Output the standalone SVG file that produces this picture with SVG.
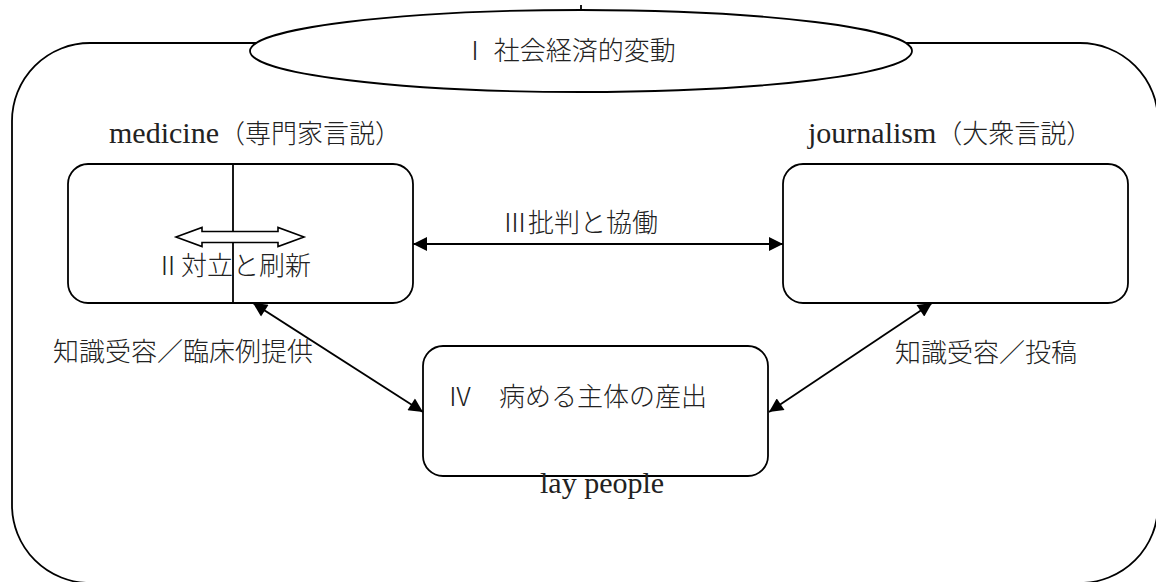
<svg xmlns="http://www.w3.org/2000/svg" width="1156" height="582" viewBox="0 0 1156 582">
<style>
.box{fill:#fff;stroke:#000;stroke-width:1.8}
.ln{fill:none;stroke:#000;stroke-width:1.8}
.t{font-family:"Liberation Serif","Noto Sans CJK JP",serif;font-size:26px;fill:#222}
.jp{font-family:"Noto Sans CJK JP","Liberation Serif",sans-serif;font-weight:300}
.lat{font-family:"Liberation Serif",serif;font-size:30px}
</style>
<defs>
<marker id="ah" viewBox="0 0 10 10" refX="10" refY="5" markerUnits="userSpaceOnUse" markerWidth="15" markerHeight="14" orient="auto-start-reverse">
<path d="M0,0 L10,5 L0,10 Z" fill="#000"/>
</marker>
</defs>
<rect width="1156" height="582" fill="#fff"/>
<g id="frame">
<rect class="box" x="12" y="43" width="1146" height="540" rx="78" ry="78"/>
</g>
<g id="node-I">
<line class="ln" x1="581" y1="5" x2="581" y2="10" stroke-width="1"/>
<ellipse class="box" cx="581" cy="51" rx="331" ry="41"/>
<text class="t jp" x="462" y="60">Ⅰ 社会経済的変動</text>
</g>
<g id="node-medicine">
<text class="t" x="109" y="143"><tspan class="lat">medicine</tspan><tspan class="jp">（専門家言説）</tspan></text>
<rect class="box" x="68" y="164" width="345" height="139" rx="20" ry="20"/>
<line class="ln" x1="233" y1="164" x2="233" y2="303"/>
<path d="M176,237 L202,227.5 L202,231.5 L278,231.5 L278,227.5 L304,237 L278,246.5 L278,242.5 L202,242.5 L202,246.5 Z" fill="#fff" stroke="#000" stroke-width="1.6"/>
<text class="t jp" x="155" y="275">Ⅱ対立と刷新</text>
</g>
<g id="node-journalism">
<text class="t" x="808" y="143"><tspan class="lat">journalism</tspan><tspan class="jp">（大衆言説）</tspan></text>
<rect class="box" x="783" y="164" width="345" height="139" rx="20" ry="20"/>
</g>
<g id="node-lay">
<rect class="box" x="423" y="346" width="345" height="130" rx="20" ry="20"/>
<text class="t jp" x="447" y="406">Ⅳ　病める主体の産出</text>
<text class="t lat" x="540" y="493">lay people</text>
</g>
<g id="connectors">
<line class="ln" x1="413" y1="244" x2="783" y2="244" marker-start="url(#ah)" marker-end="url(#ah)"/>
<line class="ln" x1="253" y1="303" x2="423" y2="412" marker-start="url(#ah)" marker-end="url(#ah)"/>
<line class="ln" x1="932" y1="303" x2="769" y2="412" marker-start="url(#ah)" marker-end="url(#ah)"/>
<text class="t jp" x="502" y="232">Ⅲ批判と協働</text>
<text class="t jp" x="53" y="361">知識受容／臨床例提供</text>
<text class="t jp" x="895" y="362">知識受容／投稿</text>
</g>
</svg>
